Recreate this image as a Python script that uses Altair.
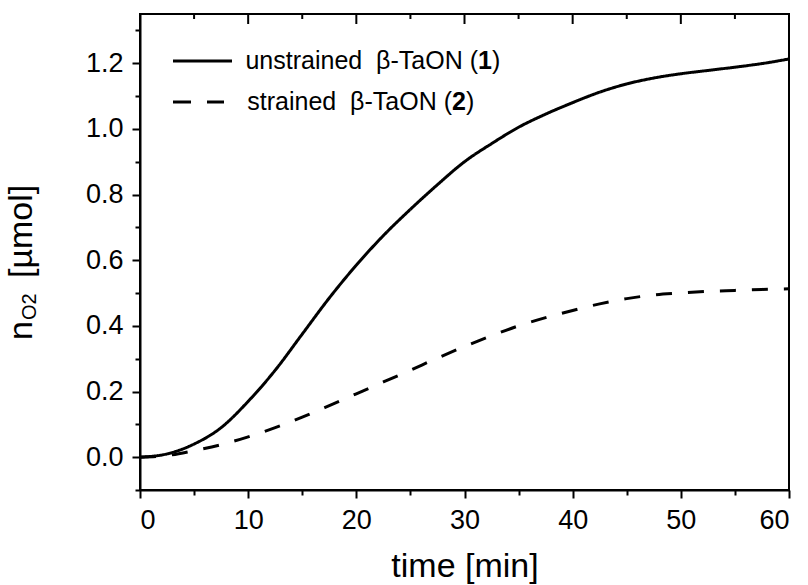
import altair as alt
import pandas as pd

time_min = [0, 2.5, 5, 7.5, 10, 12.5, 15, 17.5, 20, 22.5, 25, 27.5, 30, 32.5, 35, 37.5,
            40, 42.5, 45, 47.5, 50, 52.5, 55, 57.5, 60]
unstrained = [0.0, 0.01, 0.04, 0.09, 0.17, 0.265, 0.375, 0.485, 0.585, 0.675, 0.755, 0.83,
              0.90, 0.955, 1.005, 1.045, 1.08, 1.112, 1.137, 1.155, 1.168, 1.178, 1.188, 1.199, 1.213]
strained = [0.0, 0.005, 0.02, 0.038, 0.062, 0.09, 0.122, 0.157, 0.193, 0.229, 0.265, 0.302,
            0.337, 0.37, 0.40, 0.425, 0.447, 0.467, 0.483, 0.494, 0.50, 0.505, 0.508, 0.511, 0.513]
series_names = ["unstrained", "strained"]
x_ticks = [0, 5, 10, 15, 20, 25, 30, 35, 40, 45, 50, 55, 60]
x_major = [0, 10, 20, 30, 40, 50, 60]
x_minor = [5, 15, 25, 35, 45, 55]
y_ticks = [-0.1, 0.0, 0.1, 0.2, 0.3, 0.4, 0.5, 0.6, 0.7, 0.8, 0.9, 1.0, 1.1, 1.2, 1.3]

FONT = "Liberation Sans"
W, H = 649, 476

rows = []
for t, a, b in zip(time_min, unstrained, strained):
    rows.append({"t": t, "v": a, "s": series_names[0]})
    rows.append({"t": t, "v": b, "s": series_names[1]})
df = pd.DataFrame(rows)

xscale = alt.Scale(domain=[0, 60], nice=False, zero=False)
yscale = alt.Scale(domain=[-0.1, 1.35], nice=False, zero=False)

x_axis = alt.Axis(
    values=x_ticks, title="time [min]", grid=False,
    labelExpr="datum.value % 10 === 0 ? datum.label : ''",
    tickSize={"condition": {"test": "datum.value % 10 !== 0", "value": 5}, "value": 8},
    labelPadding=9, titlePadding=16,
)
y_axis = alt.Axis(
    values=y_ticks, title=None, grid=False,
    labelExpr="abs(round(datum.value*10)) % 2 === 0 ? format(datum.value, '.1f') : ''",
    tickSize={"condition": {"test": "abs(round(datum.value*10)) % 2 === 1", "value": 5}, "value": 8},
    labelPadding=9,
)

lines = alt.Chart(df).mark_line(color="black", strokeWidth=3, interpolate="monotone").encode(
    x=alt.X("t:Q", scale=xscale, axis=x_axis),
    y=alt.Y("v:Q", scale=yscale, axis=y_axis),
    detail="s:N",
    strokeDash=alt.StrokeDash("s:N", scale=alt.Scale(domain=series_names, range=[[1, 0], [16, 16]]), legend=None),
)

# inward ticks along the top edge
top_major = alt.Chart(pd.DataFrame({"t": x_major})).mark_rule(color="black", strokeWidth=2).encode(
    x=alt.X("t:Q", scale=xscale, axis=x_axis),
    y=alt.value(0),
    y2=alt.value(10),
)
top_minor = alt.Chart(pd.DataFrame({"t": x_minor})).mark_rule(color="black", strokeWidth=2).encode(
    x=alt.X("t:Q", scale=xscale, axis=x_axis),
    y=alt.value(0),
    y2=alt.value(5),
)

one = pd.DataFrame({"a": [0]})
legend_solid = alt.Chart(one).mark_rule(color="black", strokeWidth=3).encode(
    x=alt.value(33), x2=alt.value(92), y=alt.value(47)
)
legend_dash1 = alt.Chart(one).mark_rule(color="black", strokeWidth=3).encode(
    x=alt.value(33), x2=alt.value(51), y=alt.value(88)
)
legend_dash2 = alt.Chart(one).mark_rule(color="black", strokeWidth=3).encode(
    x=alt.value(67), x2=alt.value(84), y=alt.value(88)
)

def txt(text, x, y, align="left", weight="normal", size=25, angle=None, baseline="middle"):
    kw = dict(text=text, align=align, baseline=baseline, font=FONT, fontSize=size,
              fontWeight=weight, color="black")
    if angle is not None:
        kw["angle"] = angle
    return alt.Chart(one).mark_text(**kw).encode(x=alt.value(x), y=alt.value(y))

NB = "\u00a0\u00a0"
legend_texts = [
    txt("unstrained" + NB + "\u03b2-TaON (", 338, 47, align="right"),
    txt("1", 338, 47, weight="bold"),
    txt(")", 352, 47),
    txt("strained" + NB + "\u03b2-TaON (", 312, 88, align="right"),
    txt("2", 312, 88, weight="bold"),
    txt(")", 326, 88),
]

ytitle = [
    txt("n", -108, 326, size=34, angle=270, baseline="alphabetic"),
    txt("O2", -104, 306, size=20, angle=270, baseline="alphabetic"),
    txt("[\u00b5mol]", -108, 264, size=34, angle=270, baseline="alphabetic"),
]

chart = alt.layer(lines, top_major, top_minor, legend_solid, legend_dash1, legend_dash2,
                  *legend_texts, *ytitle).properties(
    width=W, height=H,
    padding={"left": 140, "top": 14, "right": 19, "bottom": 95},
    autosize=alt.AutoSizeParams(type="none"),
).configure(background="white").configure_view(stroke="black", strokeWidth=2).configure_axis(
    labelFont=FONT, labelFontSize=27, labelColor="black",
    titleFont=FONT, titleFontSize=34, titleFontWeight="normal", titleColor="black",
    tickColor="black", tickWidth=2, domainColor="black", domainWidth=2,
)

chart.save("out.html", embed_options={"renderer": "svg", "actions": False})
